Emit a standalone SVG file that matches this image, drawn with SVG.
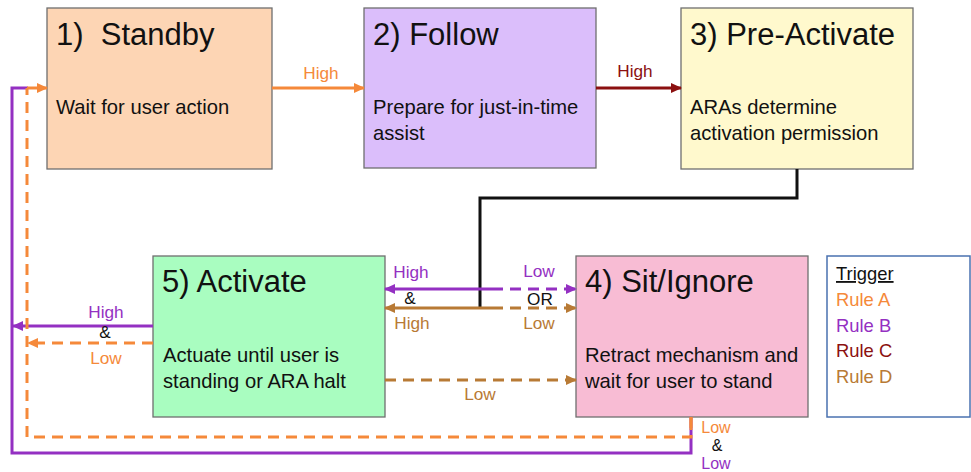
<svg xmlns="http://www.w3.org/2000/svg" width="971" height="472" viewBox="0 0 971 472">
  <defs>
    <style>
      text { font-family: "Liberation Sans", Arial, sans-serif; fill: #111; }
      .box { stroke: #6f6f6f; stroke-width: 1.3; }
      .title { font-size: 31px; }
      .body { font-size: 20.2px; }
      .lbl { font-size: 17.2px; }
      .sm { font-size: 16px; }
      .leg { font-size: 18.4px; }
      .w { fill: none; stroke-width: 3; }
      .dash { stroke-dasharray: 11 7; }
      .ora { stroke: #f5893a; }
      .pur { stroke: #9430c2; }
      .red { stroke: #8b1010; }
      .brn { stroke: #b87a35; }
      .blk { stroke: #111; }
      .tora { fill: #f5893a; }
      .tpur { fill: #9430c2; }
      .tred { fill: #8b1010; }
      .tbrn { fill: #b87a35; }
    </style>
    <marker id="ah-ora" markerUnits="userSpaceOnUse" markerWidth="11" markerHeight="10" refX="10" refY="5" orient="auto">
      <path d="M0,0 L11,5 L0,10 z" fill="#f5893a"/>
    </marker>
    <marker id="ah-pur" markerUnits="userSpaceOnUse" markerWidth="11" markerHeight="10" refX="10" refY="5" orient="auto">
      <path d="M0,0 L11,5 L0,10 z" fill="#9430c2"/>
    </marker>
    <marker id="ah-red" markerUnits="userSpaceOnUse" markerWidth="11" markerHeight="10" refX="10" refY="5" orient="auto">
      <path d="M0,0 L11,5 L0,10 z" fill="#8b1010"/>
    </marker>
    <marker id="ah-brn" markerUnits="userSpaceOnUse" markerWidth="11" markerHeight="10" refX="10" refY="5" orient="auto">
      <path d="M0,0 L11,5 L0,10 z" fill="#b87a35"/>
    </marker>
  </defs>

  <rect width="971" height="472" fill="#fff"/>

  <!-- state nodes -->
  <g id="standby">
    <rect class="box" x="47" y="8" width="225" height="161" fill="#fdd5b4"/>
    <text class="title" x="56" y="45" xml:space="preserve">1)  Standby</text>
    <text class="body" x="56" y="114">Wait for user action</text>
  </g>
  <g id="follow">
    <rect class="box" x="364" y="8" width="232" height="160" fill="#dbbefb"/>
    <text class="title" x="373" y="45">2) Follow</text>
    <text class="body" x="373" y="114">Prepare for just-in-time</text>
    <text class="body" x="373" y="140">assist</text>
  </g>
  <g id="pre-activate">
    <rect class="box" x="681" y="8" width="232" height="161" fill="#fff9cd"/>
    <text class="title" x="690" y="45">3) Pre-Activate</text>
    <text class="body" x="690" y="114">ARAs determine</text>
    <text class="body" x="690" y="140">activation permission</text>
  </g>
  <g id="activate">
    <rect class="box" x="153" y="256" width="232" height="161" fill="#a9fdc0"/>
    <text class="title" x="162" y="292">5) Activate</text>
    <text class="body" x="163" y="362">Actuate until user is</text>
    <text class="body" x="163" y="388">standing or ARA halt</text>
  </g>
  <g id="sit-ignore">
    <rect class="box" x="576" y="256" width="232" height="161" fill="#f8bcd4"/>
    <text class="title" x="585" y="292">4) Sit/Ignore</text>
    <text class="body" x="585" y="362">Retract mechanism and</text>
    <text class="body" x="585" y="388">wait for user to stand</text>
  </g>
  <g id="legend">
    <rect x="827" y="256" width="143" height="161" fill="#fff" stroke="#4a72b0" stroke-width="1.5"/>
    <text class="leg" x="836" y="280" text-decoration="underline">Trigger</text>
    <text class="leg tora" x="836" y="306">Rule A</text>
    <text class="leg tpur" x="836" y="332">Rule B</text>
    <text class="leg tred" x="836" y="357">Rule C</text>
    <text class="leg tbrn" x="836" y="383">Rule D</text>
  </g>

  <!-- transitions -->
  <g id="connectors">
    <!-- Standby -> Follow -> Pre-Activate -->
    <line class="w ora" x1="272" y1="88" x2="364" y2="88" marker-end="url(#ah-ora)"/>
    <line class="w red" x1="596" y1="88" x2="681" y2="88" marker-end="url(#ah-red)"/>

    <!-- Pre-Activate down to the Activate / Sit split -->
    <path class="w blk" d="M797,169 V198 H480 V308"/>

    <!-- split toward Activate (solid) and Sit/Ignore (dashed) -->
    <line class="w pur" x1="492" y1="289" x2="385" y2="289" marker-end="url(#ah-pur)"/>
    <line class="w pur dash" x1="492" y1="289" x2="576" y2="289" marker-end="url(#ah-pur)"/>
    <line class="w brn" x1="492" y1="308" x2="385" y2="308" marker-end="url(#ah-brn)"/>
    <line class="w brn dash" x1="492" y1="308" x2="576" y2="308" marker-end="url(#ah-brn)"/>

    <!-- Activate -> Sit/Ignore -->
    <line class="w brn dash" x1="385" y1="380" x2="576" y2="380" marker-end="url(#ah-brn)"/>

    <!-- Activate -> back to Standby -->
    <line class="w pur" x1="153" y1="326" x2="13" y2="326" marker-end="url(#ah-pur)"/>
    <line class="w ora dash" x1="153" y1="343" x2="28" y2="343" marker-end="url(#ah-ora)"/>

    <!-- Sit/Ignore -> back to Standby -->
    <path class="w pur" d="M691,417 V453 H12 V88 H28"/>
    <path class="w ora dash" d="M691,417 V437 H27 V88"/>
    <line class="w ora" x1="27" y1="88" x2="47" y2="88" marker-end="url(#ah-ora)"/>
    <line class="w ora" x1="691" y1="417" x2="691" y2="430"/>

    <!-- labels -->
    <text class="lbl tora" x="321" y="79" text-anchor="middle">High</text>
    <text class="lbl tred" x="635" y="77" text-anchor="middle">High</text>

    <text class="lbl tpur" x="411" y="278" text-anchor="middle">High</text>
    <text class="lbl" x="410" y="304" text-anchor="middle">&amp;</text>
    <text class="lbl tbrn" x="412" y="329" text-anchor="middle">High</text>
    <text class="lbl tpur" x="539" y="277" text-anchor="middle">Low</text>
    <text class="lbl" x="540" y="305" text-anchor="middle">OR</text>
    <text class="lbl tbrn" x="539" y="329" text-anchor="middle">Low</text>

    <text class="lbl tbrn" x="480" y="400" text-anchor="middle">Low</text>

    <text class="lbl tpur" x="106" y="318" text-anchor="middle">High</text>
    <text class="lbl" x="105" y="338" text-anchor="middle">&amp;</text>
    <text class="lbl tora" x="106" y="364" text-anchor="middle">Low</text>

    <text class="sm tora" x="716" y="433" text-anchor="middle">Low</text>
    <text class="sm" x="717" y="451" text-anchor="middle">&amp;</text>
    <text class="sm tpur" x="716" y="469" text-anchor="middle">Low</text>
  </g>
</svg>
